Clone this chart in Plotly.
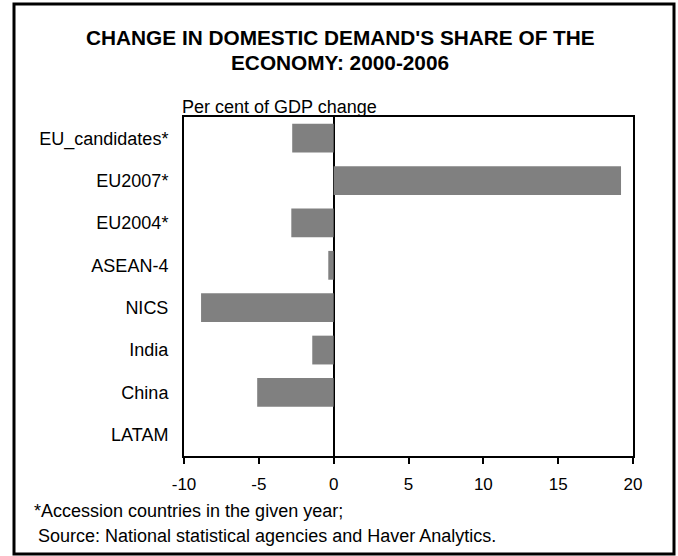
import plotly.graph_objects as go

categories = ["EU_candidates*", "EU2007*", "EU2004*", "ASEAN-4", "NICS", "India", "China", "LATAM"]
values = [-2.77, 19.2, -2.83, -0.36, -8.86, -1.43, -5.11, 0.0]
tick_vals = [-10, -5, 0, 5, 10, 15, 20]

W, H = 678, 556
L, R, T, B = 184, 633, 117, 456
pw, ph = R - L, B - T

def px(x):
    return (x - L) / pw

def py(y):
    return (B - y) / ph

font = "Liberation Sans, Arial, sans-serif"

fig = go.Figure(go.Bar(
    x=values, y=categories, orientation="h",
    marker=dict(color="#808080", line=dict(width=0)),
))

fig.update_layout(
    width=W, height=H,
    margin=dict(l=L, r=W - R, t=T, b=H - B),
    paper_bgcolor="white", plot_bgcolor="white",
    bargap=0.32, showlegend=False,
    font=dict(family=font, size=18, color="black"),
)
fig.update_xaxes(
    range=[-10, 20], tickvals=tick_vals, ticktext=[str(v) for v in tick_vals],
    ticks="outside", ticklen=6, tickwidth=2, tickcolor="black",
    showline=True, linewidth=2, linecolor="black", mirror=True,
    showgrid=False, zeroline=True, zerolinecolor="black", zerolinewidth=2,
    tickfont=dict(size=17), ticklabelstandoff=6,
)
fig.update_yaxes(
    autorange="reversed", showline=True, linewidth=2, linecolor="black", mirror=True,
    showgrid=False, ticks="", tickfont=dict(size=18), ticklabelstandoff=10,
)

fig.add_shape(type="rect", xref="paper", yref="paper",
              x0=px(14), x1=px(674), y0=py(554), y1=py(4),
              line=dict(color="black", width=3))

fig.add_annotation(text="<b>CHANGE IN DOMESTIC DEMAND'S SHARE OF THE</b>", xref="paper", yref="paper",
                   x=px(340), y=py(38), xanchor="center", yanchor="middle", showarrow=False,
                   font=dict(size=20.8))
fig.add_annotation(text="<b>ECONOMY: 2000-2006</b>", xref="paper", yref="paper",
                   x=px(340), y=py(63), xanchor="center", yanchor="middle", showarrow=False,
                   font=dict(size=20.8))
fig.add_annotation(text="Per cent of GDP change", xref="paper", yref="paper",
                   x=px(180), y=py(107), xanchor="left", yanchor="middle", showarrow=False,
                   font=dict(size=18))
fig.add_annotation(text="*Accession countries in the given year;", xref="paper", yref="paper",
                   x=px(32), y=py(511), xanchor="left", yanchor="middle", showarrow=False,
                   font=dict(size=18))
fig.add_annotation(text="Source: National statistical agencies and Haver Analytics.", xref="paper", yref="paper",
                   x=px(36), y=py(536), xanchor="left", yanchor="middle", showarrow=False,
                   font=dict(size=18))

fig.write_html("out.html")
